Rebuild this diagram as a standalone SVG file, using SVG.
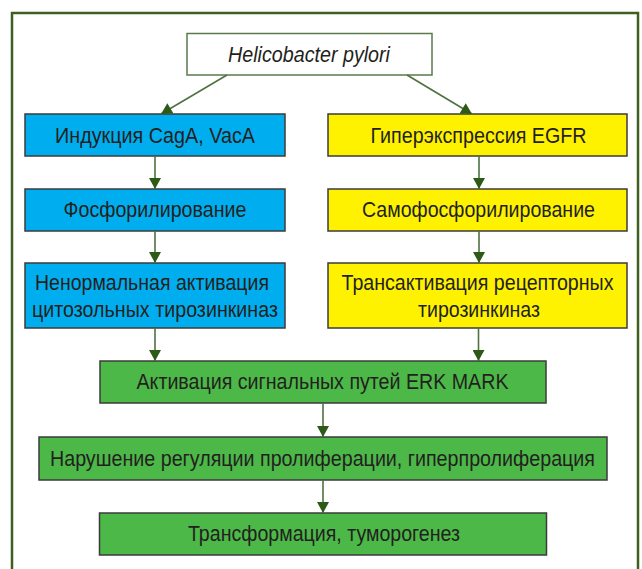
<svg xmlns="http://www.w3.org/2000/svg" width="642" height="569" viewBox="0 0 642 569">
<style>
.box{stroke:#3b3b3b;stroke-width:1.5}
.blue{fill:#00aeef}
.yellow{fill:#fff200}
.green{fill:#4cb848}
.top{fill:#ffffff;stroke:#5b7a4b;stroke-width:1.5}
text{font-family:"Liberation Sans",Arial,sans-serif;font-size:22px;fill:#231f20;text-anchor:middle}
.it{font-style:italic}
.conn line{stroke:#4f7240;stroke-width:1.6}
</style>
<defs>
<marker id="ah" markerUnits="userSpaceOnUse" markerWidth="12" markerHeight="12" refX="10" refY="5.5" orient="auto" viewBox="0 0 10 11">
<path d="M0,0 L10,5.5 L0,11 z" fill="#2e5a18"/>
</marker>
</defs>
<rect x="12" y="13" width="626" height="600" fill="none" stroke="#3d6020" stroke-width="2.5"/>
<g id="hp">
<rect class="top" x="187" y="33.5" width="245" height="41.5"/>
<text class="it" x="309" y="61.5" textLength="162" lengthAdjust="spacingAndGlyphs">Helicobacter pylori</text>
</g>
<g id="l1">
<rect class="box blue" x="25" y="114" width="260" height="42"/>
<text x="155" y="143" textLength="200" lengthAdjust="spacingAndGlyphs">Индукция CagA, VacA</text>
</g>
<g id="l2">
<rect class="box blue" x="25" y="189" width="260" height="42"/>
<text x="155" y="216.5" textLength="183" lengthAdjust="spacingAndGlyphs">Фосфорилирование</text>
</g>
<g id="l3">
<rect class="box blue" x="25" y="263" width="260" height="65"/>
<text x="152" y="290" textLength="234" lengthAdjust="spacingAndGlyphs">Ненормальная активация</text>
<text x="155" y="317" textLength="246" lengthAdjust="spacingAndGlyphs">цитозольных тирозинкиназ</text>
</g>
<g id="r1">
<rect class="box yellow" x="328" y="114" width="299" height="42"/>
<text x="478.5" y="143" textLength="216" lengthAdjust="spacingAndGlyphs">Гиперэкспрессия EGFR</text>
</g>
<g id="r2">
<rect class="box yellow" x="328" y="189" width="299" height="42"/>
<text x="478.5" y="216.5" textLength="233" lengthAdjust="spacingAndGlyphs">Самофосфорилирование</text>
</g>
<g id="r3">
<rect class="box yellow" x="328" y="263" width="299" height="65"/>
<text x="477.5" y="290" textLength="272" lengthAdjust="spacingAndGlyphs">Трансактивация рецепторных</text>
<text x="479" y="317" textLength="122" lengthAdjust="spacingAndGlyphs">тирозинкиназ</text>
</g>
<g id="g1">
<rect class="box green" x="100" y="361" width="446" height="42"/>
<text x="322.5" y="389" textLength="372" lengthAdjust="spacingAndGlyphs">Активация сигнальных путей ERK MARK</text>
</g>
<g id="g2">
<rect class="box green" x="39" y="437" width="568" height="43"/>
<text x="322.5" y="466" textLength="545" lengthAdjust="spacingAndGlyphs">Нарушение регуляции пролиферации, гиперпролиферация</text>
</g>
<g id="g3">
<rect class="box green" x="99.5" y="513" width="447" height="42"/>
<text x="324" y="541" textLength="272" lengthAdjust="spacingAndGlyphs">Трансформация, туморогенез</text>
</g>
<g id="connectors" class="conn">
<line x1="227" y1="75" x2="161" y2="114" marker-end="url(#ah)"/>
<line x1="407" y1="75" x2="472" y2="114" marker-end="url(#ah)"/>
<line x1="155" y1="156" x2="155" y2="189" marker-end="url(#ah)"/>
<line x1="155" y1="231" x2="155" y2="263" marker-end="url(#ah)"/>
<line x1="155" y1="328" x2="155" y2="361" marker-end="url(#ah)"/>
<line x1="479" y1="156" x2="479" y2="189" marker-end="url(#ah)"/>
<line x1="479" y1="231" x2="479" y2="263" marker-end="url(#ah)"/>
<line x1="478.5" y1="328" x2="478.5" y2="361" marker-end="url(#ah)"/>
<line x1="323" y1="403" x2="323" y2="437" marker-end="url(#ah)"/>
<line x1="323" y1="480" x2="323" y2="513" marker-end="url(#ah)"/>
</g>
</svg>
